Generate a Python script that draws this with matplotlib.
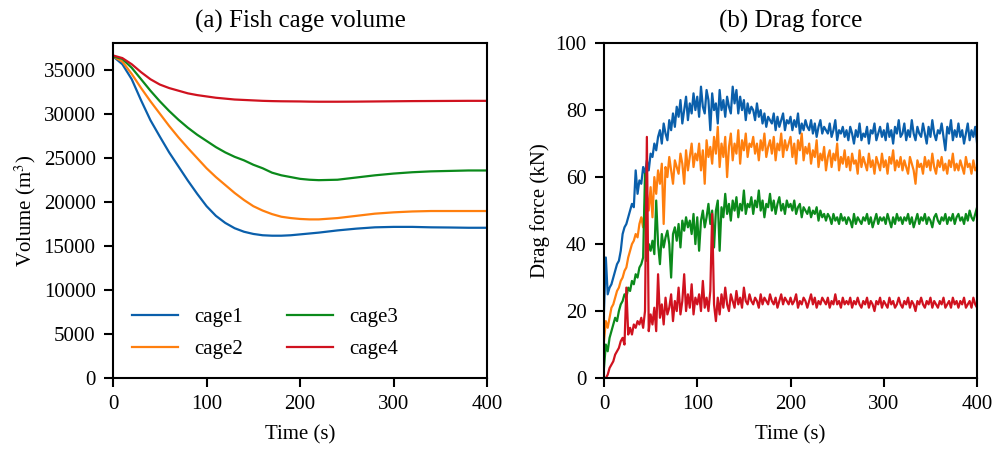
import matplotlib
matplotlib.use("Agg")
import matplotlib.pyplot as plt
import numpy as np

plt.rcParams['font.family'] = ['Liberation Serif', 'DejaVu Serif']
plt.rcParams['mathtext.fontset'] = 'stix'

# ---------------- (a) volume data ----------------
t_vol = [0, 10, 20, 30, 40, 50, 60, 70, 80, 90, 100, 110, 120, 130, 140, 150,
         160, 170, 180, 190, 200, 210, 220, 240, 260, 280, 300, 320, 340, 360, 380, 400]
vol_cage1 = [36500, 35600, 33900, 31500, 29250, 27400, 25600, 24000, 22400, 20900, 19500,
             18400, 17600, 17000, 16600, 16350, 16200, 16150, 16150, 16200, 16300, 16400,
             16500, 16750, 16950, 17100, 17150, 17150, 17100, 17080, 17050, 17050]
vol_cage2 = [36500, 35900, 34500, 32900, 31400, 30000, 28600, 27300, 26100, 24950, 23800,
             22800, 21900, 21000, 20200, 19500, 19000, 18600, 18300, 18150, 18050, 18000,
             18000, 18150, 18400, 18650, 18800, 18900, 18950, 18950, 18950, 18950]
vol_cage3 = [36500, 36200, 35200, 33900, 32600, 31400, 30300, 29300, 28400, 27600, 26900,
             26200, 25600, 25100, 24700, 24200, 23800, 23300, 23000, 22800, 22600, 22500,
             22450, 22500, 22750, 23000, 23200, 23350, 23450, 23500, 23550, 23550]
vol_cage4 = [36600, 36300, 35600, 34700, 33900, 33300, 32900, 32600, 32300, 32100, 31950,
             31800, 31700, 31600, 31550, 31500, 31450, 31420, 31400, 31390, 31380, 31360,
             31350, 31350, 31360, 31380, 31400, 31420, 31430, 31440, 31450, 31450]

# ---------------- (b) drag force data (every 2 s) ----------------
t_drag = list(range(0, 401, 2))
drag_cage1 = [
    20, 36, 25, 27, 28, 30, 32, 34, 35, 38,
    43, 45, 46, 48, 50, 52, 51, 62, 55, 59,
    58, 63, 61, 65, 62, 67, 66, 70, 68, 72,
    74, 70, 76, 73, 71, 77, 74, 79, 75, 81,
    78, 83, 76, 80, 84, 77, 82, 79, 85, 80,
    84, 78, 87, 81, 79, 86, 83, 74, 85, 80,
    82, 76, 86, 80, 83, 78, 84, 81, 79, 87,
    82, 86, 79, 84, 80, 83, 77, 82, 79, 81,
    80, 77, 82, 78, 80, 76, 79, 75, 78, 77,
    76, 79, 74, 78, 75, 77, 79, 74, 77, 76,
    78, 74, 77, 75, 79, 73, 76, 74, 77, 75,
    74, 77, 73, 76, 72, 75, 77, 73, 75, 74,
    73, 76, 72, 74, 77, 71, 74, 73, 75, 72,
    74, 71, 75, 73, 70, 74, 72, 76, 71, 73,
    72, 75, 70, 74, 73, 76, 71, 73, 75, 72,
    74, 71, 76, 72, 74, 70, 75, 73, 77, 72,
    73, 76, 71, 74, 72, 77, 73, 71, 75, 73,
    72, 76, 73, 70, 75, 72, 77, 73, 71, 74,
    73, 76, 72, 68, 75, 73, 77, 71, 74, 72,
    76, 72, 74, 70, 73, 76, 71, 74, 72, 75,
    70]
drag_cage2 = [
    11, 17, 15, 18, 21, 22, 24, 26, 27, 29,
    30, 32, 33, 36, 38, 40, 41, 43, 42, 46,
    48, 45, 52, 55, 50, 57, 48, 60, 55, 62,
    58, 64, 46, 63, 60, 66, 62, 58, 65, 63,
    61, 67, 64, 58, 68, 62, 66, 70, 63, 67,
    65, 70, 62, 68, 58, 71, 66, 69, 64, 72,
    67, 75, 63, 70, 66, 72, 60, 69, 73, 65,
    70, 67, 74, 64, 71, 68, 73, 66, 70, 69,
    72, 67, 70, 65, 71, 68, 73, 66, 69, 71,
    67, 72, 65, 70, 68, 73, 66, 71, 68, 70,
    72, 66, 70, 64, 71, 68, 73, 65, 69, 67,
    70, 64, 68, 66, 71, 63, 67, 65, 69, 62,
    66, 68, 63, 67, 65, 70, 62, 66, 64, 68,
    63, 66, 62, 67, 64, 65, 61, 68, 63, 66,
    64, 62, 67, 63, 65, 61, 66, 64, 62, 67,
    63, 65, 61, 66, 64, 68, 62, 65, 63, 66,
    62, 65, 63, 61, 66, 64, 62, 58, 65, 63,
    64, 61, 66, 63, 65, 62, 67, 63, 61, 65,
    63, 66, 62, 64, 61, 65, 63, 67, 62, 64,
    62, 65, 63, 61, 66, 63, 64, 61, 65, 62,
    63]
drag_cage3 = [
    3, 10, 8, 12, 14, 16, 18, 17, 20, 22,
    23, 25, 24, 27, 26, 29, 28, 31, 30, 33,
    34, 36, 61, 35, 40, 38, 41, 37, 53, 40,
    34, 43, 39, 42, 44, 40, 30, 43, 45, 41,
    46, 39, 47, 44, 48, 45, 47, 43, 49, 40,
    48, 38, 47, 50, 45, 48, 52, 46, 50, 39,
    50, 53, 38, 51, 48, 55, 49, 52, 47, 53,
    50, 54, 48, 52, 50, 56, 49, 52, 51, 54,
    49, 53, 51, 56, 50, 53, 48, 52, 51, 55,
    50, 53, 49, 52, 54, 50, 52, 49, 53, 51,
    52, 50, 53, 49, 51, 52, 48, 51, 50, 49,
    51, 48, 50, 49, 51, 47, 50, 48, 49, 47,
    49, 48, 46, 49, 47, 48, 46, 49, 47, 48,
    46, 48, 47, 45, 49, 46, 48, 47, 46, 48,
    47, 49, 46, 48, 45, 47, 49, 46, 48, 47,
    48, 46, 49, 47, 45, 48, 46, 49, 47, 48,
    46, 48, 47, 49, 46, 48, 45, 47, 49, 46,
    48, 47, 49, 46, 48, 47, 45, 48, 49, 47,
    46, 48, 47, 49, 46, 48, 47, 49, 46, 48,
    49, 47, 48, 46, 49, 47, 50, 48, 47, 49,
    51]
drag_cage4 = [
    -1, 0, 1, 3, 4, 5, 7, 8, 9, 11,
    12, 10, 27, 13, 15, 13, 16, 15, 17, 16,
    18, 15, 20, 72, 14, 19, 16, 21, 14, 31,
    18, 22, 16, 24, 19, 21, 25, 17, 23, 20,
    27, 19, 23, 31, 20, 25, 21, 28, 19, 24,
    22, 25, 20, 29, 21, 24, 20, 26, 49, 22,
    17, 24, 19, 25, 21, 27, 22, 20, 25, 23,
    21, 26, 22, 24, 21, 27, 23, 22, 25, 23,
    22, 24, 23, 21, 25, 22, 24, 23, 22, 25,
    23, 22, 24, 21, 23, 25, 22, 24, 23, 22,
    24, 22, 23, 25, 21, 23, 22, 24, 23, 21,
    23, 25, 22, 24, 21, 23, 22, 24, 23, 22,
    24, 21, 23, 22, 25, 22, 23, 21, 24, 22,
    23, 22, 24, 21, 23, 22, 24, 22, 21, 23,
    22, 24, 21, 23, 22, 20, 23, 22, 24, 21,
    23, 22, 21, 24, 22, 23, 21, 22, 24, 22,
    21, 23, 22, 24, 21, 23, 22, 20, 23, 22,
    24, 22, 21, 23, 22, 24, 21, 23, 22, 21,
    23, 22, 24, 21, 22, 23, 21, 24, 22, 23,
    21, 23, 22, 24, 21, 22, 23, 21, 24, 22,
    21]

labels = ['cage1', 'cage2', 'cage3', 'cage4']
colors = ['#0a5fab', '#ff7f0e', '#0b8a1b', '#d0121f']
x_ticks = [0, 100, 200, 300, 400]

fig = plt.figure(figsize=(9.95, 4.49), dpi=100)
ax1 = fig.add_axes([0.1136, 0.158, 0.376, 0.746])
ax2 = fig.add_axes([0.607, 0.158, 0.375, 0.746])

for vals, c, lab in zip([vol_cage1, vol_cage2, vol_cage3, vol_cage4], colors, labels):
    ax1.plot(t_vol, vals, color=c, lw=1.6, label=lab)
for vals, c in zip([drag_cage1, drag_cage2, drag_cage3, drag_cage4], colors):
    ax2.plot(t_drag, vals, color=c, lw=1.6)

ax1.set_xlim(0, 400)
ax1.set_ylim(0, 38000)
ax1.set_yticks(range(0, 35001, 5000))
ax1.set_xticks(x_ticks)
ax1.set_title('(a) Fish cage volume', fontsize=18, pad=11)
ax1.set_xlabel('Time (s)', fontsize=15, labelpad=8)
ax1.set_ylabel('Volume (m$^3$)', fontsize=15)
ax1.legend(loc='lower left', bbox_to_anchor=(0.0, 0.0), ncol=2, frameon=False,
           fontsize=15, handlelength=2.2, handletextpad=0.8, columnspacing=2.1,
           labelspacing=0.6)

ax2.set_xlim(0, 400)
ax2.set_ylim(0, 100)
ax2.set_yticks(range(0, 101, 20))
ax2.set_xticks(x_ticks)
ax2.set_title('(b) Drag force', fontsize=18, pad=11)
ax2.set_xlabel('Time (s)', fontsize=15, labelpad=8)
ax2.set_ylabel('Drag force (kN)', fontsize=15)

for ax in (ax1, ax2):
    for s in ax.spines.values():
        s.set_linewidth(1.5)
    ax.tick_params(direction='out', length=6.5, width=1.5, labelsize=15, pad=6)

fig.savefig('out.png', dpi=100)
